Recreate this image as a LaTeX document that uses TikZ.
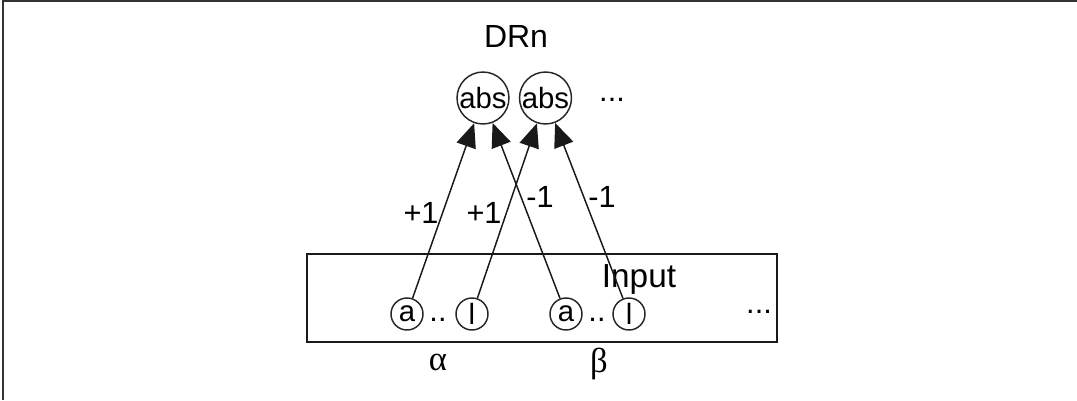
\documentclass[tikz,border=0pt]{standalone}
\usepackage{fontspec}
\setmainfont{Liberation Sans}
\newfontfamily\greekfont{Liberation Serif}
\usetikzlibrary{arrows.meta}
\begin{document}
\begin{tikzpicture}[x=0.75pt,y=-0.75pt,
  txt/.style={inner sep=0pt,font=\fontsize{23}{25}\selectfont},
  bigc/.style={circle,draw=black!85,line width=1.1pt,minimum size=37.5pt,inner sep=0pt,font=\fontsize{22}{24}\selectfont},
  smallc/.style={circle,draw=black!85,line width=1.1pt,minimum size=24pt,inner sep=0pt,font=\fontsize{22}{24}\selectfont},
  conn/.style={line width=1.1pt,draw=black!90,-{Triangle[length=18pt,width=15pt]}},
  lbl/.style={inner sep=0pt,font=\fontsize{23}{25}\selectfont}]
\useasboundingbox (0,0) rectangle (1077,400);
\coordinate (tl) at (3,1);
\coordinate (tr) at (1077,1);
\coordinate (bl) at (3,400);
\draw[line width=1.5pt,black!80] (bl) -- (tl) -- (tr);
% title
\node[txt,font=\fontsize{24}{26}\selectfont] (drn) at (516,36) {DRn};
% output nodes
\node[bigc] (abs1) at (483,98) {abs};
\node[bigc] (abs2) at (545.5,98) {abs};
\node[txt] (odots) at (612,100) {...};
% input box
\node[draw=black!90,line width=1.1pt,minimum width=352.5pt,minimum height=66pt,inner sep=0pt] (box) at (542,298) {};
\node[txt,font=\fontsize{25}{27}\selectfont] (inp) at (639,279) {Input};
\node[smallc] (a1) at (407,314) {a};
\node[txt] (d1) at (438,320) {..};
\node[smallc] (l1) at (472,314) {l};
\node[smallc] (a2) at (566,314) {a};
\node[txt] (d2) at (597,320) {..};
\node[smallc] (l2) at (629,314) {l};
\node[txt] (idots) at (759,312) {...};
\node[txt,font=\greekfont\fontsize{26}{28}\selectfont] (alpha) at (438,362) {α};
\node[txt,font=\greekfont\fontsize{26}{28}\selectfont] (beta) at (599,364) {β};
% connectors
\draw[conn] (a1) -- (abs1);
\draw[conn] (l1) -- (abs2);
\draw[conn] (a2) -- (abs1);
\draw[conn] (l2) -- (abs2);
% labels
\node[lbl] (p1) at (421,213) {+1};
\node[lbl] (p2) at (484,213) {+1};
\node[lbl] (m1) at (540,197) {-1};
\node[lbl] (m2) at (602,197) {-1};
\end{tikzpicture}
\end{document}
